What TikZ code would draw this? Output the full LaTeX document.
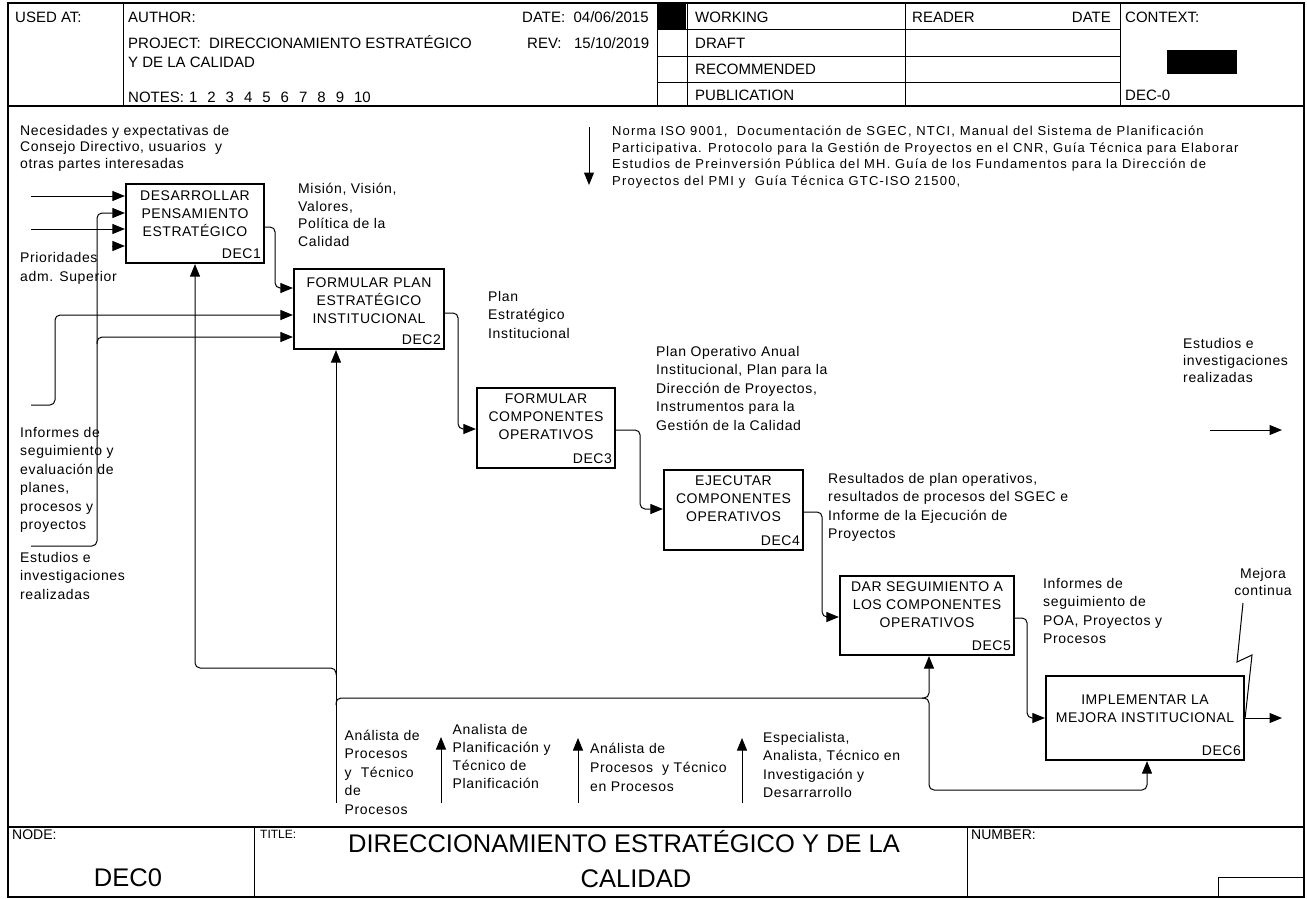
\documentclass[tikz,border=0pt]{standalone}
\usepackage{fontspec}
\setmainfont{Liberation Sans}
\newfontfamily\lblfont{Liberation Sans}[LetterSpace=4.6]
\newfontfamily\actfont{Liberation Sans}[LetterSpace=3.8]
\newfontfamily\refont{Liberation Sans}[LetterSpace=9]
\usetikzlibrary{positioning, arrows.meta}

\begin{document}
\begin{tikzpicture}[x=1pt, y=-1pt,
    act/.style = {draw, line width=2.2pt, inner sep=0pt},
    acttxt/.style = {align=center, inner sep=0pt, font=\actfont\fontsize{14}{18}\selectfont},
    deccode/.style = {anchor=south east, inner xsep=4pt, inner ysep=5pt, font=\actfont\fontsize{14}{18}\selectfont},
    lbl/.style = {anchor=north west, align=left, inner sep=0pt, font=\lblfont\fontsize{14}{18.5}\selectfont},
    hdr/.style = {anchor=base west, inner sep=0pt, font=\fontsize{15}{18}\selectfont},
    arr/.style = {line width=1pt, rounded corners=5pt, -{Triangle[length=12.5pt, width=10pt]}},
    wire/.style = {line width=1pt},
    rule/.style = {line width=0.9pt},
    frameline/.style = {line width=1.6pt}]

\useasboundingbox (0,0) rectangle (1307,898);

% form
\draw[frameline] (8,3) rectangle (1304,897);
\draw[frameline] (8,106) -- (1304,106);
\draw[frameline] (8,827) -- (1304,827);
\draw[rule] (123,3) -- (123,106);
\draw[rule] (657,3) -- (657,106);
\draw[rule] (687,3) -- (687,106);
\draw[rule] (905,3) -- (905,106);
\draw[rule] (1120,3) -- (1120,106);
\draw[rule] (657,29) -- (1120,29);
\draw[rule] (657,56) -- (1120,56);
\draw[rule] (657,82) -- (1120,82);
\fill (657,4) rectangle (686,29);
\fill (1167,50) rectangle (1237,74);
\draw[rule] (254,827) -- (254,897);
\draw[rule] (967,827) -- (967,897);
\draw[rule] (1218,877) rectangle (1304,897);

% header
\node[hdr] (usedat) at (15,22) {USED AT:};
\node[hdr] (author) at (128,22) {AUTHOR:};
\node[hdr] (date) at (522,22) {DATE:\ \ 04/06/2015};
\node[hdr] (project) at (128,48) {PROJECT:\ \ DIRECCIONAMIENTO ESTRATÉGICO};
\node[hdr] (rev) at (527,48) {REV:\ \ \ 15/10/2019};
\node[hdr] (project2) at (128,67) {Y DE LA CALIDAD};
\node[hdr] (notes) at (128,102) {NOTES:\hspace{5pt}1\hspace{10pt}2\hspace{10pt}3\hspace{10pt}4\hspace{10pt}5\hspace{10pt}6\hspace{10pt}7\hspace{10pt}8\hspace{10pt}9\hspace{10pt}10};
\node[hdr] (working) at (695,22) {WORKING};
\node[hdr] (draft) at (695,48) {DRAFT};
\node[hdr] (recommended) at (695,74) {RECOMMENDED};
\node[hdr] (publication) at (695,100) {PUBLICATION};
\node[hdr] (reader) at (912,22) {READER};
\node[hdr, anchor=base east] (rdate) at (1111,22) {DATE};
\node[hdr] (context) at (1125,22) {CONTEXT:};
\node[hdr] (ctxnode) at (1125,100) {DEC-0};

% title block
\node[hdr, font=\fontsize{14}{16}\selectfont] (nodelbl) at (12,839) {NODE:};
\node[hdr, font=\fontsize{12}{14}\selectfont] (titlelbl) at (260,838) {TITLE:};
\node[hdr, font=\fontsize{14}{16}\selectfont] (numberlbl) at (971,839) {NUMBER:};
\node[inner sep=0pt, font=\fontsize{25.5}{30}\selectfont] (nodeid) at (128,878) {DEC0};
\node[hdr, anchor=base, font=\fontsize{25.5}{30}\selectfont] (title1) at (624,852) {DIRECCIONAMIENTO ESTRATÉGICO Y DE LA};
\node[hdr, anchor=base, font=\fontsize{25.5}{30}\selectfont] (title2) at (636,887) {CALIDAD};

% activities
\node[act, minimum width=138, minimum height=79] (d1) at (195,223.5) {};
\node[acttxt, below=8pt of d1.north] (d1t) {DESARROLLAR\\PENSAMIENTO\\ESTRATÉGICO};
\node[deccode] (d1c) at (d1.south east) {DEC1};

\node[act, minimum width=150, minimum height=80] (d2) at (369,309) {};
\node[acttxt, below=10pt of d2.north] (d2t) {FORMULAR PLAN\\ESTRATÉGICO\\INSTITUCIONAL};
\node[deccode] (d2c) at (d2.south east) {DEC2};

\node[act, minimum width=138, minimum height=80] (d3) at (546,428) {};
\node[acttxt, below=7pt of d3.north] (d3t) {FORMULAR\\COMPONENTES\\OPERATIVOS};
\node[deccode] (d3c) at (d3.south east) {DEC3};

\node[act, minimum width=139, minimum height=80] (d4) at (733.5,510) {};
\node[acttxt, below=7pt of d4.north] (d4t) {EJECUTAR\\COMPONENTES\\OPERATIVOS};
\node[deccode] (d4c) at (d4.south east) {DEC4};

\node[act, minimum width=174, minimum height=79] (d5) at (927,615.5) {};
\node[acttxt, below=7pt of d5.north] (d5t) {DAR SEGUIMIENTO A\\LOS COMPONENTES\\OPERATIVOS};
\node[deccode] (d5c) at (d5.south east) {DEC5};

\node[act, minimum width=198, minimum height=84] (d6) at (1145,718) {};
\node[acttxt, below=20pt of d6.north] (d6t) {IMPLEMENTAR LA\\MEJORA INSTITUCIONAL};
\node[deccode] (d6c) at (d6.south east) {DEC6};

% inputs
\node[lbl, font=\lblfont\fontsize{14}{16.5}\selectfont] (needs) at (20,125) {Necesidades y expectativas de\\Consejo Directivo, usuarios\ \ y\\otras partes interesadas};
\node[lbl, font=\lblfont\fontsize{14}{19}\selectfont] (prio) at (20,252) {Prioridades\\adm. Superior};
\node[lbl] (reports) at (20,427) {Informes de\\seguimiento y\\evaluación de\\planes,\\procesos y\\proyectos};
\node[lbl, font=\lblfont\fontsize{14}{18.5}\selectfont] (studies) at (20,552) {Estudios e\\investigaciones\\realizadas};

\coordinate (i1) at (31,196);
\coordinate (i3) at (31,229);
\coordinate (i4) at (112,246);
\coordinate (i2) at (31,546);
\coordinate (b2) at (97,213);
\coordinate (b2d) at (97,337);
\coordinate (i5) at (31,405);
\coordinate (b5) at (55,315);

\draw[arr] (i1) -- (i1 -| d1.west);
\draw[arr] (i3) -- (i3 -| d1.west);
\draw[arr] (i4) -- (i4 -| d1.west);
\draw[arr] (i2) -| (b2) -- (b2 -| d1.west);
\draw[arr] ([yshift=-7pt]b2d) -- (b2d) -- (b2d -| d2.west);
\draw[arr] (i5) -| (b5) -- (b5 -| d2.west);

% outputs
\node[lbl, font=\lblfont\fontsize{14}{17.5}\selectfont] (mission) at (298,183) {Misión, Visión,\\Valores,\\Política de la\\Calidad};
\node[lbl] (pei) at (488,291) {Plan\\Estratégico\\Institucional};
\node[lbl] (poa) at (656,346) {Plan Operativo Anual\\Institucional, Plan para la\\Dirección de Proyectos,\\Instrumentos para la\\Gestión de la Calidad};
\node[lbl] (results) at (828,473) {Resultados de plan operativos,\\resultados de procesos del SGEC e\\Informe de la Ejecución de\\Proyectos};
\node[lbl] (followup) at (1043,578) {Informes de\\seguimiento de\\POA, Proyectos y\\Procesos};
\node[lbl, anchor=north, align=center, font=\lblfont\fontsize{14}{17}\selectfont] (improve) at (1263,568) {Mejora\\continua};
\node[lbl, font=\lblfont\fontsize{14}{17}\selectfont] (studiesout) at (1183,338) {Estudios e\\investigaciones\\realizadas};

\draw[arr] ([yshift=-3.5pt]d1.east) -- ++(10,0) |- ([yshift=21pt]d2.west);
\draw[arr] ([yshift=-4pt]d2.east) -- ++(13,0) |- ([yshift=-1pt]d3.west);
\draw[arr] ([yshift=-2pt]d3.east) -- ++(24,0) |- ([yshift=1pt]d4.west);
\draw[arr] ([yshift=-2pt]d4.east) -- ++(18,0) |- ([yshift=-1.5pt]d5.west);
\draw[arr] ([yshift=-2.5pt]d5.east) -- ++(12,0) |- (d6.west);

\coordinate (o6) at (1282,718);
\draw[arr] (d6.east) -- (o6);
\coordinate (z0) at (1243,603);
\draw[wire] (z0) -- ++(-6,59) -- ++(15,-7) -- (d6.east);

\coordinate (e0) at (1210,430);
\coordinate (e1) at (1282,430);
\draw[arr] (e0) -- (e1);

% controls
\node[lbl, font=\refont\fontsize{13}{16.5}\selectfont] (norms) at (612,126) {Norma ISO 9001,\ \ Documentación de SGEC, NTCI, Manual del Sistema de Planificación\\Participativa. Protocolo para la Gestión de Proyectos en el CNR, Guía Técnica para Elaborar\\Estudios de Preinversión Pública del MH. Guía de los Fundamentos para la Dirección de\\Proyectos del PMI y\ \ Guía Técnica GTC-ISO 21500,};
\coordinate (n0) at (589,127);
\coordinate (n1) at (589,185);
\draw[arr] (n0) -- (n1);

% mechanisms
\node[lbl] (mech1) at (344.5,729.5) {Análista de\\Procesos\\y\ \ Técnico\\de\\Procesos};
\node[lbl, font=\lblfont\fontsize{14}{18}\selectfont] (mech2) at (452.5,724) {Analista de\\Planificación y\\Técnico de\\Planificación};
\node[lbl, font=\lblfont\fontsize{14}{19}\selectfont] (mech3) at (590,742.5) {Análista de\\Procesos\ \ y Técnico\\en Procesos};
\node[lbl] (mech4) at (763,732) {Especialista,\\Analista, Técnico en\\Investigación y\\Desarrarrollo};

\coordinate (k0) at (336,803);
\coordinate (k1) at (336,668);
\coordinate (k2) at (336,698);
\coordinate (k4) at (929,698);
\coordinate (k3) at (929,790);
\draw[arr] (k0) -- (k0 |- d2.south);
\draw[arr] ([yshift=-7pt]k1) -- (k1) -| (d1.south);
\draw[arr] ([yshift=-7pt]k2) -- (k2) -| ([xshift=2pt]d5.south);
\draw[arr] ([xshift=-7pt]k4) -- (k4) -- (k3) -| ([xshift=2pt]d6.south);

\coordinate (m1) at (441,803);
\coordinate (m2) at (578,803);
\coordinate (m3) at (742,803);
\draw[arr] (m1) -- (441,737);
\draw[arr] (m2) -- (578,738);
\draw[arr] (m3) -- (742,738);

\end{tikzpicture}
\end{document}
